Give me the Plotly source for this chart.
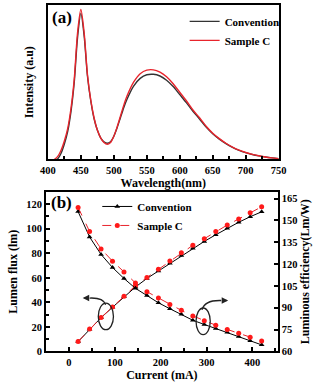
import plotly.graph_objects as go

# ---- (a) spectra ----
wavelength = [410, 415, 420, 425, 430, 435, 440, 445, 450, 455, 460, 465, 470, 475, 480, 485, 490,
              495, 500, 505, 510, 515, 520, 530, 540, 550, 560, 570, 580, 590, 600, 610, 620, 630,
              640, 650, 660, 670, 680, 690, 700, 710, 720, 730, 740, 750]
intensity_conv = [0.0, 0.005, 0.04, 0.10, 0.18, 0.31, 0.50, 0.79, 0.945, 0.80, 0.54, 0.38, 0.265, 0.19,
                  0.14, 0.115, 0.105, 0.115, 0.15, 0.205, 0.27, 0.335, 0.39, 0.475, 0.525, 0.548, 0.551,
                  0.54, 0.513, 0.472, 0.42, 0.368, 0.312, 0.262, 0.21, 0.167, 0.132, 0.103, 0.078, 0.059,
                  0.044, 0.032, 0.023, 0.016, 0.010, 0.005]
intensity_c = [0.0, 0.02, 0.06, 0.12, 0.20, 0.33, 0.52, 0.82, 0.97, 0.82, 0.55, 0.385, 0.27, 0.19,
               0.14, 0.11, 0.098, 0.11, 0.15, 0.21, 0.28, 0.35, 0.41, 0.50, 0.555, 0.578, 0.580,
               0.565, 0.535, 0.49, 0.435, 0.38, 0.32, 0.27, 0.215, 0.17, 0.135, 0.105, 0.08, 0.06,
               0.045, 0.033, 0.024, 0.016, 0.010, 0.005]

# ---- (b) lumen flux / efficiency ----
current = [20, 45, 70, 95, 120, 145, 170, 195, 220, 245, 270, 295, 320, 345, 370, 395, 420]
flux_conv = [8, 18, 27.5, 36, 44.5, 52.5, 59.5, 65.6, 71.8, 78.2, 84.1, 89.7, 95.1, 100.5, 105.3, 109.8, 113.8]
flux_c = [8, 18.2, 27.6, 36.2, 45, 53.6, 60.3, 67, 73.7, 80.4, 86.5, 91.9, 97.8, 103, 108, 113, 117.9]
eff_conv = [156, 138.6, 126.6, 117.6, 110.1, 103.3, 98.4, 93.4, 89.3, 85.5, 81.4, 78.5, 75.8, 73.1, 70.2, 67.4, 64.5]
eff_c = [158.9, 142.4, 130.4, 122, 114.6, 107, 101, 96.6, 92.3, 88.2, 84.4, 81, 78, 75.1, 72.4, 69.7, 67.2]

FONT = "Liberation Serif"
W, H = 318, 384

fig = go.Figure()

fig.add_trace(go.Scatter(x=wavelength, y=intensity_conv, mode="lines", name="Convention",
                         line=dict(color="#333333", width=1.4, shape="spline", smoothing=0.8),
                         xaxis="x", yaxis="y", legend="legend"))
fig.add_trace(go.Scatter(x=wavelength, y=intensity_c, mode="lines", name="Sample C",
                         line=dict(color="#e8242c", width=1.4, shape="spline", smoothing=0.8),
                         xaxis="x", yaxis="y", legend="legend"))

MS = 5
fig.add_trace(go.Scatter(x=current, y=flux_conv, mode="lines+markers", name="Convention",
                         line=dict(color="black", width=1), marker=dict(symbol="triangle-up", size=MS, color="black"),
                         xaxis="x2", yaxis="y2", legend="legend2"))
fig.add_trace(go.Scatter(x=current, y=flux_c, mode="lines+markers", name="Sample C",
                         line=dict(color="#e8242c", width=1, dash="dash"), marker=dict(symbol="circle", size=MS, color="#ff1a1a"),
                         xaxis="x2", yaxis="y2", legend="legend2"))
fig.add_trace(go.Scatter(x=current, y=eff_conv, mode="lines+markers", name="Convention",
                         line=dict(color="black", width=1), marker=dict(symbol="triangle-up", size=MS, color="black"),
                         xaxis="x2", yaxis="y3", showlegend=False))
fig.add_trace(go.Scatter(x=current, y=eff_c, mode="lines+markers", name="Sample C",
                         line=dict(color="#e8242c", width=1, dash="dash"), marker=dict(symbol="circle", size=MS, color="#ff1a1a"),
                         xaxis="x2", yaxis="y3", showlegend=False))

tickfont = dict(family=FONT, size=10.5, color="black", weight="bold")
titlefont = dict(family=FONT, size=12, color="black", weight="bold")
axis_common = dict(showline=True, linecolor="black", linewidth=2, mirror=True, ticks="inside",
                   ticklen=4, tickwidth=1.5, tickcolor="black", showgrid=False, zeroline=False,
                   tickfont=tickfont)

fig.update_layout(
    width=W, height=H, margin=dict(l=0, r=0, t=0, b=0),
    paper_bgcolor="white", plot_bgcolor="white",
    xaxis=dict(domain=[42 / W, 285 / W], anchor="y", range=[400, 750], dtick=50,
               minor=dict(dtick=25, ticks="inside", ticklen=3, tickcolor="black"),
               title=dict(text="Wavelength(nm)", font=titlefont, standoff=0), **axis_common),
    yaxis=dict(domain=[1 - 162 / H, 1 - 5 / H], anchor="x", range=[0, 1.0], showticklabels=False,
               ticks="", title=dict(text="Intensity (a.u)", font=titlefont, standoff=10),
               **{k: v for k, v in axis_common.items() if k not in ("ticks",)}),
    xaxis2=dict(domain=[40 / W, 284 / W], anchor="y2", range=[-50, 455], dtick=100,
                minor=dict(dtick=50, ticks="inside", ticklen=3, tickcolor="black"),
                title=dict(text="Current (mA)", font=titlefont, standoff=0), **axis_common),
    yaxis2=dict(domain=[1 - 357 / H, 1 - 195 / H], anchor="x2", range=[0, 130], dtick=20,
                minor=dict(dtick=10, ticks="inside", ticklen=3, tickcolor="black"),
                title=dict(text="Lumen flux (lm)", font=titlefont, standoff=6), **axis_common),
    yaxis3=dict(overlaying="y2", anchor="x2", side="right", range=[60, 169.5], dtick=15,
                tick0=60, showline=True, linecolor="black", linewidth=2, ticks="inside", ticklen=4,
                tickwidth=1.5, tickcolor="black", showgrid=False, zeroline=False, tickfont=tickfont,
                title=dict(text="Luminous efficiency(Lm/W)", font=titlefont, standoff=4)),
    legend=dict(x=186 / W, y=1 - 7 / H, xanchor="left", yanchor="top", bgcolor="rgba(0,0,0,0)",
                font=dict(family=FONT, size=11, color="black", weight="bold"),
                tracegroupgap=0, itemwidth=30),
    legend2=dict(x=94 / W, y=1 - 195 / H, xanchor="left", yanchor="top", bgcolor="rgba(0,0,0,0)",
                 font=dict(family=FONT, size=11, color="black", weight="bold"),
                 tracegroupgap=0, itemwidth=30),
    showlegend=True,
)

# panel labels
fig.add_annotation(text="(a)", x=44 / W, y=1 - 6 / H, xref="paper", yref="paper", xanchor="left",
                   yanchor="top", showarrow=False, font=dict(family=FONT, size=17, color="black", weight="bold"))
fig.add_annotation(text="(b)", x=43 / W, y=1 - 194 / H, xref="paper", yref="paper", xanchor="left",
                   yanchor="top", showarrow=False, font=dict(family=FONT, size=17, color="black", weight="bold"))

# ellipses
fig.add_shape(type="circle", xref="x2", yref="y2", x0=64, x1=97, y0=17.7, y1=39.4,
              line=dict(color="#222222", width=1.3))
fig.add_shape(type="circle", xref="x2", yref="y2", x0=277, x1=308, y0=13.7, y1=35.4,
              line=dict(color="#222222", width=1.3))
# curved arrow bodies
fig.add_shape(type="path", xref="x2", yref="y2", path="M 80,38 Q 75,44 45,43.5",
              line=dict(color="#222222", width=1.3))
fig.add_shape(type="path", xref="x2", yref="y2", path="M 290,34 Q 296,42 332,41.5",
              line=dict(color="#222222", width=1.3))
# arrow heads
fig.add_annotation(x=30, y=43.5, ax=46, ay=43.5, xref="x2", yref="y2", axref="x2", ayref="y2",
                   text="", showarrow=True, arrowhead=2, arrowsize=1, arrowwidth=1.3, arrowcolor="#222222")
fig.add_annotation(x=347, y=41.5, ax=331, ay=41.5, xref="x2", yref="y2", axref="x2", ayref="y2",
                   text="", showarrow=True, arrowhead=2, arrowsize=1, arrowwidth=1.3, arrowcolor="#222222")

fig.write_html("out.html")
